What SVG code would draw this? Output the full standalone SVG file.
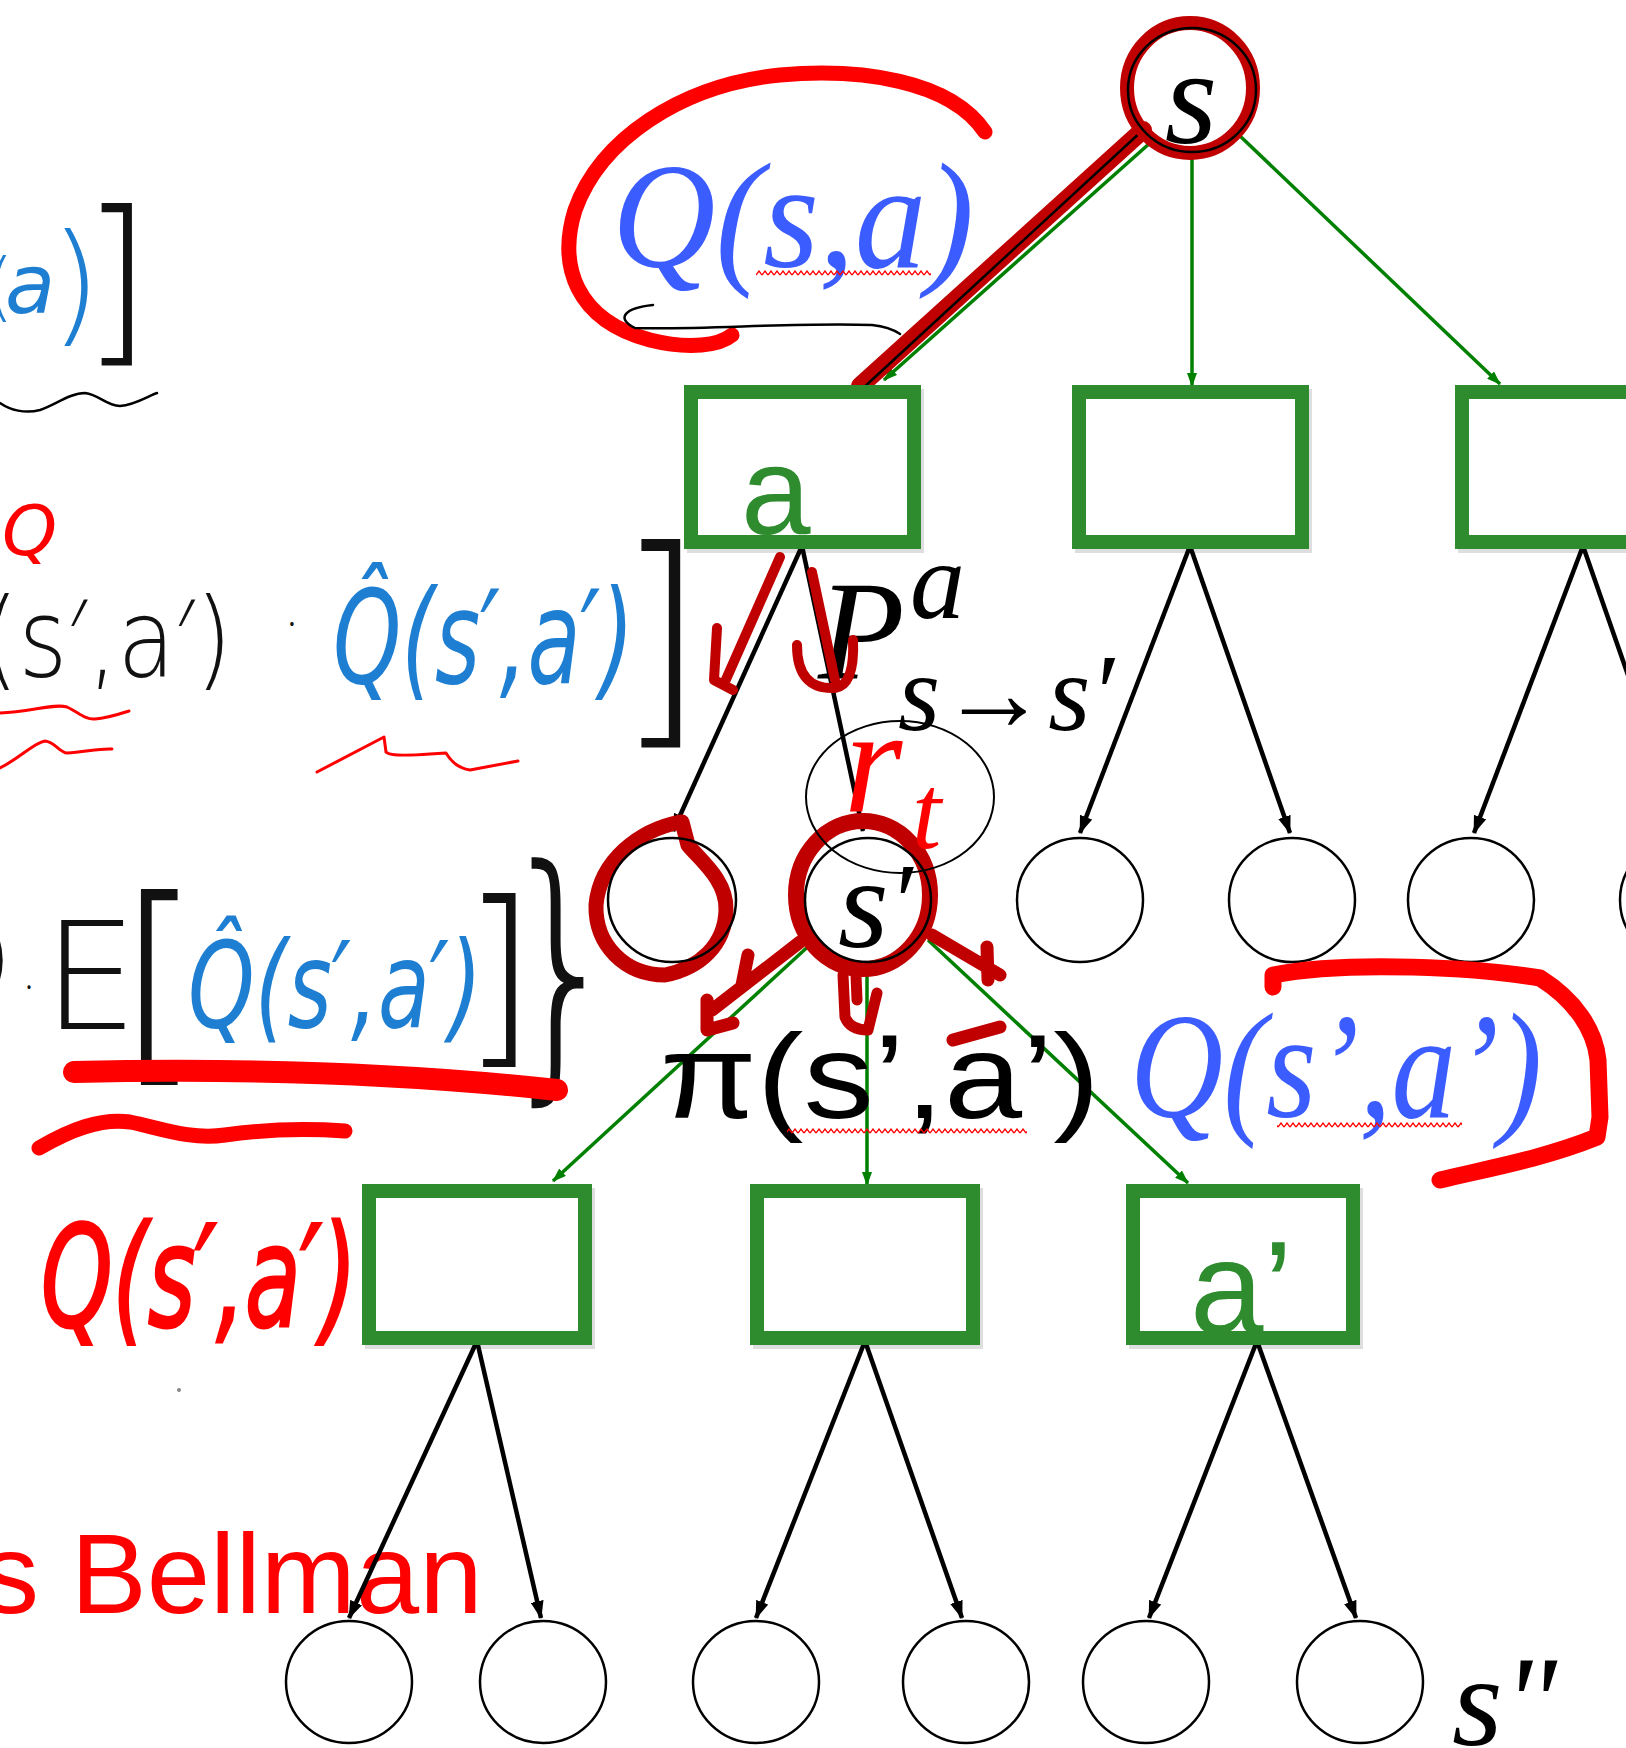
<svg xmlns="http://www.w3.org/2000/svg" width="1626" height="1748" viewBox="0 0 1626 1748">
<style>
.box{fill:#fff;stroke:#2e8b2e;stroke-width:14}
.shd{fill:none;stroke:#000;stroke-opacity:0.13;stroke-width:14}
.st{fill:none;stroke:#000;stroke-width:2.5}
.blk{fill:none;stroke:#000;stroke-width:4.5;marker-end:url(#ah)}
.grn{fill:none;stroke:#008000;stroke-width:3.5;marker-end:url(#ahg)}
.dr{fill:none;stroke:#c00000;stroke-linecap:round;stroke-linejoin:round}
.rd{fill:none;stroke:#ff0000;stroke-linecap:round;stroke-linejoin:round}
.thin{fill:none;stroke:#000;stroke-width:2.5;stroke-linecap:round}
.si{font-family:'Liberation Serif','Times New Roman',serif;font-style:italic}
.sans{font-family:'Liberation Sans',Arial,sans-serif}
.hw{font-family:'DejaVu Sans','Noto Sans',sans-serif;font-weight:200}
.hb{fill:#1e7fd2}
.hk{fill:#111}
.hr{fill:#ff0000}
.qb{fill:#3b5cff}
</style>
<defs>
<marker id="ah" markerUnits="userSpaceOnUse" markerWidth="18" markerHeight="13" refX="17" refY="6.5" orient="auto"><path d="M0,0 L18,6.5 L0,13 z" fill="#000"/></marker>
<marker id="ahg" markerUnits="userSpaceOnUse" markerWidth="14" markerHeight="10" refX="13" refY="5" orient="auto"><path d="M0,0 L14,5 L0,10 z" fill="#008000"/></marker>
<pattern id="zz" patternUnits="userSpaceOnUse" width="6" height="6"><path d="M0,5 L3,1 L6,5" fill="none" stroke="#ff0000" stroke-width="1.3"/></pattern>
</defs>
<rect width="1626" height="1748" fill="#fff"/>

<!-- left handwritten formulas -->
<g id="formula-top">
<text class="hw hb" x="-15" y="312" font-size="74">(</text>
<text class="hw hb" x="5" y="313" font-size="82" font-style="italic">a</text>
<text class="hw hb" x="50" y="328" font-size="131">)</text>
<text class="hw hk" x="81" y="341" font-size="182">]</text>
<path class="thin" d="M0,403 C10,410 25,414 40,410 C55,405 70,393 85,393 C100,395 105,405 120,406 C135,405 150,395 157,393"/>
</g>
<g id="formula-middle">
<text class="hw hr" x="2" y="555" font-size="70" font-style="italic">Q</text>
<text class="hw hk" x="-18" y="676" font-size="108" textLength="250" lengthAdjust="spacingAndGlyphs">(s′,a′)</text>
<text class="hw hk" x="292" y="633" font-size="26" text-anchor="middle" font-weight="bold">•</text>
<text class="hw hb" x="333" y="683" font-size="130" font-style="italic" textLength="301" lengthAdjust="spacingAndGlyphs">Q̂(s′,a′)</text>
<text class="hw hk" x="615" y="717" font-size="233">]</text>
<path class="rd" stroke-width="3" d="M0,713 C30,712 55,703 67,707 C78,712 85,720 95,719 C110,718 125,712 129,711"/>
<path class="rd" stroke-width="3" d="M0,768 C20,758 35,742 45,741 C55,742 60,753 67,753 C85,752 100,748 112,749"/>
<path class="rd" stroke-width="3" d="M317,772 L384,737 L386,752 Q390,757 430,754 L446,753 Q455,768 470,770 L518,761"/>
</g>
<g id="formula-lower">
<text class="hw hk" x="-26" y="992" font-size="100">)</text>
<text class="hw hk" x="29" y="996" font-size="24" text-anchor="middle" font-weight="bold">•</text>
<text class="hw hk" x="43" y="1029" font-size="150">E</text>
<text class="hw hk" x="116" y="1056" font-size="220">[</text>
<text class="hw hb" x="188" y="1027" font-size="120" font-style="italic" textLength="294" lengthAdjust="spacingAndGlyphs">Q̂(s′,a′)</text>
<text class="hw hk" x="461" y="1041" font-size="195">]</text>
<text class="hw hk" x="498" y="1064" font-size="272" textLength="126" lengthAdjust="spacingAndGlyphs">}</text>
<path class="rd" stroke-width="22" d="M74,1072 C250,1068 420,1075 557,1090"/>
<path class="rd" stroke-width="15" d="M39,1148 C70,1130 100,1118 130,1122 C160,1128 190,1140 225,1135 C260,1130 300,1128 345,1131"/>
</g>
<g id="formula-red">
<text class="hw hr" x="41" y="1326" font-size="140" font-style="italic" stroke="#ff0000" stroke-width="3" textLength="316" lengthAdjust="spacingAndGlyphs">Q(s′,a′)</text>
<circle cx="179" cy="1390" r="2" fill="#888"/>
</g>
<g id="bellman">
<text class="sans" x="-18" y="1613" font-size="114" fill="#ff0000">s Bellman</text>
</g>

<!-- connectors -->
<g id="connectors">
<line class="grn" x1="1150" y1="143" x2="884" y2="380"/>
<line class="grn" x1="1192" y1="153" x2="1192" y2="386"/>
<line class="grn" x1="1240" y1="136" x2="1500" y2="384"/>
<line class="dr" x1="1143" y1="130" x2="860" y2="386" stroke-width="18"/>
<line class="thin" x1="1143" y1="130" x2="861" y2="390"/>

<line class="blk" x1="802" y1="546" x2="673" y2="831"/>
<line class="blk" x1="802" y1="546" x2="863" y2="831"/>
<line class="blk" x1="1190" y1="546" x2="1080" y2="833"/>
<line class="blk" x1="1190" y1="546" x2="1290" y2="833"/>
<line class="blk" x1="1583" y1="546" x2="1474" y2="833"/>
<line class="blk" x1="1583" y1="546" x2="1683" y2="833"/>

<line class="grn" x1="813" y1="942" x2="553" y2="1181"/>
<line class="grn" x1="867" y1="962" x2="867" y2="1185"/>
<line class="grn" x1="928" y1="940" x2="1188" y2="1183"/>

<line class="blk" x1="477" y1="1341" x2="349" y2="1618"/>
<line class="blk" x1="477" y1="1341" x2="541" y2="1618"/>
<line class="blk" x1="865" y1="1341" x2="756" y2="1618"/>
<line class="blk" x1="865" y1="1341" x2="962" y2="1618"/>
<line class="blk" x1="1257" y1="1341" x2="1149" y2="1618"/>
<line class="blk" x1="1257" y1="1341" x2="1356" y2="1618"/>
</g>

<!-- root state s -->
<g id="node-s">
<ellipse cx="1190" cy="88" rx="63" ry="65" class="dr" stroke-width="14"/>
<ellipse cx="1192" cy="90" rx="64" ry="62" class="st"/>
<text class="si" x="1191" y="143" font-size="135" text-anchor="middle">s</text>
</g>
<g id="label-Qsa">
<text class="si qb" x="612" y="267" font-size="150" textLength="362" lengthAdjust="spacingAndGlyphs">Q(s,a)</text>
<rect x="756" y="270" width="175" height="6" fill="url(#zz)"/>
<path class="rd" stroke-width="15" d="M985,132 C950,80 860,68 780,75 C680,85 600,140 575,210 C558,265 575,320 650,340 C690,350 720,345 732,335"/>
<path class="thin" stroke-width="2" d="M653,305 C625,308 615,318 635,328 C700,330 800,322 872,325 C890,327 897,332 900,334"/>
</g>

<!-- action boxes row 1 -->
<g id="node-a">
<rect class="shd" x="694" y="396" width="223" height="150"/>
<rect class="box" x="691" y="392" width="223" height="150"/>
<text class="sans" x="741" y="534" font-size="125" fill="#2e8b2e">a</text>
</g>
<g id="node-a2">
<rect class="shd" x="1082" y="396" width="223" height="150"/>
<rect class="box" x="1079" y="392" width="223" height="150"/>
</g>
<g id="node-a3">
<rect class="shd" x="1465" y="396" width="223" height="150"/>
<rect class="box" x="1462" y="392" width="223" height="150"/>
</g>

<!-- transition label -->
<g id="label-P">
<text class="si" x="818" y="679" font-size="142">P</text>
<text class="si" x="910" y="618" font-size="110">a</text>
<text class="si" x="898" y="730" font-size="110" textLength="216" lengthAdjust="spacingAndGlyphs">s<tspan font-style="normal">→</tspan>s′</text>
</g>
<g id="marks-a">
<path class="dr" stroke-width="10" d="M780,557 L724,684 M717,628 L714,680 L733,690"/>
<path class="dr" stroke-width="10" d="M812,572 L835,680 M797,645 Q797,690 835,688 Q855,685 853,640"/>
</g>

<!-- row 2 states -->
<g id="node-s1">
<path class="dr" stroke-width="15" d="M680,822 C640,830 600,860 596,905 C595,945 625,975 665,975 C700,968 725,945 726,910 C727,880 700,860 688,845 L682,822"/>
<ellipse cx="672" cy="900" rx="64" ry="62" class="st"/>
</g>
<g id="node-s-prime">
<ellipse cx="863" cy="895" rx="67" ry="74" class="dr" stroke-width="16"/>
<path class="dr" stroke-width="13" d="M800,942 L712,1010 M748,955 L742,985 M707,1000 L707,1030 L733,1023"/>
<path class="dr" stroke-width="11" d="M843,975 L845,1017 Q850,1030 868,1030 L877,993 M856,975 L857,1000"/>
<path class="dr" stroke-width="13" d="M932,935 L1000,975 M987,947 L988,980 M953,1040 L1000,1027"/>
<ellipse cx="868" cy="900" rx="63" ry="62" class="st"/>
<text class="si" x="838" y="947" font-size="130">s<tspan dy="-8" font-size="110">′</tspan></text>
</g>
<g id="label-rt">
<ellipse cx="900" cy="797" rx="94" ry="76" fill="none" stroke="#000" stroke-width="2"/>
<text class="si" x="844" y="812" font-size="150" fill="#ff0000">r</text>
<text class="si" x="912" y="848" font-size="105" fill="#ff0000">t</text>
</g>
<g id="node-s3"><ellipse cx="1080" cy="900" rx="63" ry="62" class="st"/></g>
<g id="node-s4"><ellipse cx="1292" cy="900" rx="63" ry="62" class="st"/></g>
<g id="node-s5"><ellipse cx="1471" cy="900" rx="63" ry="62" class="st"/></g>
<g id="node-s6"><ellipse cx="1683" cy="900" rx="63" ry="62" class="st"/></g>

<!-- policy label -->
<g id="label-pi">
<text class="sans" x="660" y="1118" font-size="120" textLength="440" lengthAdjust="spacingAndGlyphs">π(s’,a’)</text>
<rect x="787" y="1128" width="240" height="6" fill="url(#zz)"/>
</g>
<g id="label-Qsa-prime">
<text class="si qb" x="1130" y="1117" font-size="150" textLength="412" lengthAdjust="spacingAndGlyphs">Q(s’,a’)</text>
<rect x="1277" y="1122" width="185" height="6" fill="url(#zz)"/>
<path class="rd" stroke-width="17" d="M1273,987 L1273,975 C1350,960 1480,968 1540,978 C1575,1000 1595,1030 1598,1060 L1600,1117 L1597,1137 C1540,1160 1480,1170 1440,1180"/>
</g>

<!-- action boxes row 3 -->
<g id="node-b1">
<rect class="shd" x="372" y="1195" width="216" height="147"/>
<rect class="box" x="369" y="1191" width="216" height="147"/>
</g>
<g id="node-b2">
<rect class="shd" x="760" y="1195" width="216" height="147"/>
<rect class="box" x="757" y="1191" width="216" height="147"/>
</g>
<g id="node-a-prime">
<rect class="shd" x="1136" y="1195" width="220" height="147"/>
<rect class="box" x="1133" y="1191" width="220" height="147"/>
<text class="sans" x="1190" y="1333" font-size="132" fill="#2e8b2e">a’</text>
</g>

<!-- row 4 states -->
<g id="node-t1"><ellipse cx="349" cy="1682" rx="63" ry="61" class="st"/></g>
<g id="node-t2"><ellipse cx="543" cy="1682" rx="63" ry="61" class="st"/></g>
<g id="node-t3"><ellipse cx="756" cy="1682" rx="63" ry="61" class="st"/></g>
<g id="node-t4"><ellipse cx="966" cy="1682" rx="63" ry="61" class="st"/></g>
<g id="node-t5"><ellipse cx="1146" cy="1682" rx="63" ry="61" class="st"/></g>
<g id="node-t6"><ellipse cx="1360" cy="1682" rx="63" ry="61" class="st"/></g>
<g id="label-s2">
<text class="si" x="1452" y="1745" font-size="130">s"</text>
</g>
</svg>
